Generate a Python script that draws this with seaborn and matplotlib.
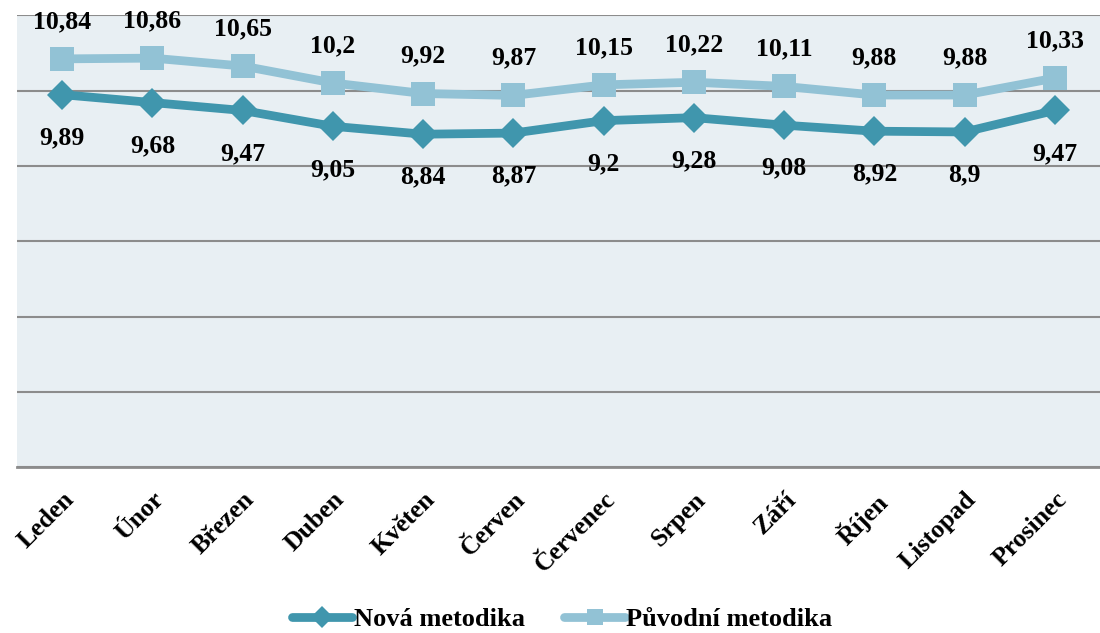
import pandas as pd
import matplotlib
matplotlib.use("Agg")
import matplotlib.pyplot as plt
from matplotlib.lines import Line2D
import seaborn as sns


MONTHS = ["Leden", "Únor", "Březen", "Duben", "Květen", "Červen",
          "Červenec", "Srpen", "Září", "Říjen", "Listopad", "Prosinec"]
NOVA = [9.89, 9.68, 9.47, 9.05, 8.84, 8.87, 9.2, 9.28, 9.08, 8.92, 8.9, 9.47]
PUVODNI = [10.84, 10.86, 10.65, 10.2, 9.92, 9.87, 10.15, 10.22, 10.11, 9.88, 9.88, 10.33]
SERIES = ["Nová metodika", "Původní metodika"]
COLORS = {"Nová metodika": "#4096ad", "Původní metodika": "#92c2d5"}
MARKERS = {"Nová metodika": "D", "Původní metodika": "s"}


def fmt(v):
    return ("%g" % v).replace(".", ",")


# DATA
df = pd.DataFrame({
    "Month": MONTHS * 2,
    "Value": NOVA + PUVODNI,
    "Series": [SERIES[0]] * len(MONTHS) + [SERIES[1]] * len(MONTHS),
})
df["x"] = list(range(len(MONTHS))) * 2

sns.set_style("white")
plt.rcParams["font.family"] = ["Liberation Serif", "DejaVu Serif"]
plt.rcParams["font.weight"] = "bold"
plt.rcParams["text.color"] = "black"
plt.rcParams["xtick.color"] = "black"

fig = plt.figure(figsize=(11, 6.33), dpi=100)
ax = fig.add_axes([0.0155, 0.262, 0.9845, 0.714])
ax.set_facecolor("#e8eff3")

for name in SERIES:
    sub = df[df["Series"] == name]
    sns.lineplot(
        data=sub, x="x", y="Value", ax=ax, color=COLORS[name],
        marker=MARKERS[name], linewidth=6.3,
        markersize=17 if name == SERIES[1] else 15,
        markeredgewidth=0, legend=False, solid_capstyle="round",
    )

# value labels
for i, v in enumerate(PUVODNI):
    ax.annotate(fmt(v), (i, v), xytext=(0, 27), textcoords="offset points",
                ha="center", va="center", fontsize=18.5, fontweight="bold")
for i, v in enumerate(NOVA):
    ax.annotate(fmt(v), (i, v), xytext=(0, -31), textcoords="offset points",
                ha="center", va="center", fontsize=18.5, fontweight="bold")

ax.set_xlim(-0.5, len(MONTHS) - 0.5)
ax.set_ylim(0, 12)
ax.set_yticks(range(0, 13, 2))
ax.set_yticklabels([])
ax.tick_params(axis="y", length=0)
ax.yaxis.grid(True, color="#8c8c8c", linewidth=1.5)
ax.set_axisbelow(True)

ax.set_xticks(range(len(MONTHS)))
ax.set_xticklabels(MONTHS, rotation=45, ha="right", va="top",
                   rotation_mode="anchor", fontsize=18.5, fontweight="bold",
                   color="black")
ax.tick_params(axis="x", length=0, pad=15)
ax.set_xlabel("")
ax.set_ylabel("")

for side in ["top", "right", "left"]:
    ax.spines[side].set_visible(False)
ax.spines["bottom"].set_color("#8c8c8c")
ax.spines["bottom"].set_linewidth(2)

# legend with smaller markers
handles = [
    Line2D([], [], color=COLORS[name], marker=MARKERS[name], linewidth=6.3,
           markersize=12 if name == SERIES[1] else 11, markeredgewidth=0,
           solid_capstyle="round")
    for name in SERIES
]
fig.legend(handles, SERIES, loc="lower center", bbox_to_anchor=(0.511, -0.035),
           ncol=2, frameon=False, handlelength=2.3, handletextpad=0.05,
           columnspacing=1.5, prop={"size": 19, "weight": "bold"})

fig.savefig("out.png", dpi=100)
